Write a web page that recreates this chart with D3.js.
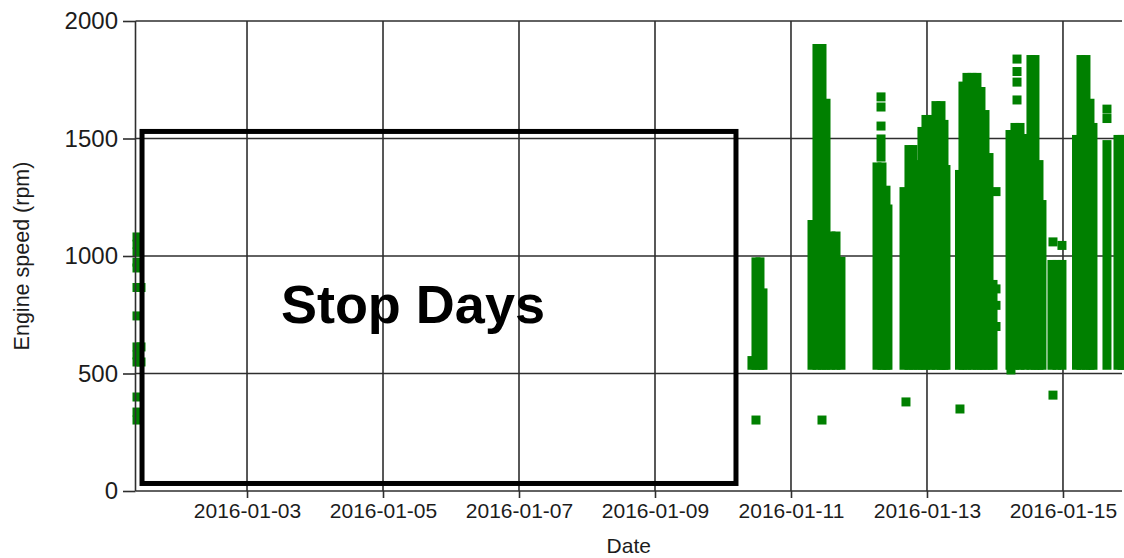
<!DOCTYPE html>
<html>
<head>
<meta charset="utf-8">
<script src="https://cdn.jsdelivr.net/npm/d3@7"></script>
<style>
  html, body { margin: 0; padding: 0; background: #fff; }
  svg { display: block; font-family: 'Liberation Sans', Arial, sans-serif; }
</style>
</head>
<body>
<svg id="chart" width="1124" height="558"></svg>
<script>
// ---------- DATA (days are decimal days of January 2016, 3.0 = 2016-01-03 00:00) ----------
const xTickLabels = ["2016-01-03","2016-01-05","2016-01-07","2016-01-09","2016-01-11","2016-01-13","2016-01-15"];
const yTickValues = [0, 500, 1000, 1500, 2000];
const xDomainDays = [1.360, 15.868];
const yDomain = [0, 2000];

// individual readings (scattered squares)
const pointDay = [
  1.382,1.382,1.382,1.382,1.382,1.382,1.382,1.382,1.382,1.382,1.382,1.382,1.382,
  1.441,1.441,1.441,
  10.485, 11.456, 12.691, 13.485, 14.853, 14.235,
  12.324,12.324,12.324,
  14.324,14.324,14.324,14.324,
  14.853,14.985,
  15.647,15.647,
  14.015,14.015,14.015,14.015
];
const pointRpm = [
  1081,1050,1017,974,949,866,745,613,579,549,400,336,302,
  866,613,549,
  302, 302, 379, 349, 408, 515,
  1677,1634,1553,
  1838,1785,1740,1664,
  1060,1045,
  1625,1585,
  1274,860,790,700
];

// dense runs of readings: for each time column, lowest and highest rpm reached
const runDay = [
  10.426,10.485,10.544,10.588,
  11.309,11.382,11.456,11.515,11.588,11.662,11.735,
  12.324,12.265,12.338,12.397,12.426,
  12.662,12.735,12.794,12.868,12.926,12.985,13.059,13.132,13.206,13.250,13.279,
  13.478,13.529,13.588,13.662,13.735,13.794,13.853,13.912,13.971,
  14.221,14.294,14.368,14.441,14.529,14.588,14.647,14.691,
  14.838,14.912,14.985,
  15.199,15.265,15.338,15.397,15.441,
  15.647,
  15.809,15.868,15.926
];
const runLow = [
  535,535,535,535,
  535,535,535,535,535,535,535,
  1421,535,535,535,535,
  535,535,535,535,535,535,535,535,535,535,535,
  535,535,535,535,535,535,535,535,535,
  535,535,535,535,535,535,535,535,
  535,535,535,
  535,535,535,535,535,
  535,
  535,535,535
];
const runHigh = [
  555,975,975,843,
  1134,1883,1883,1650,1085,1085,977,
  1498,1379,1379,1280,1200,
  1274,1453,1453,1389,1530,1581,1581,1640,1640,1560,1368,
  1347,1723,1760,1760,1760,1700,1602,1419,879,
  1517,1547,1547,1500,1836,1836,1389,1219,
  964,964,964,
  1496,1836,1836,1650,1547,
  1474,
  1496,1496,1496
];

// "Stop Days" annotation box (time span and rpm span) and its label anchor
const stopBoxDays = [1.456, 10.191];
const stopBoxRpm = [32, 1530];
const stopLabelText = "Stop Days";
const stopLabelDay = 5.44;
const stopLabelRpm = 715;

// ---------- CHART ----------
const dayToDate = d => new Date(Date.UTC(2016, 0, 1) + (d - 1) * 864e5);
const parseTick = d3.utcParse("%Y-%m-%d");
const fmtTick = d3.utcFormat("%Y-%m-%d");

const L = 135.5, R = 1122, T = 21, B = 491;
const svg = d3.select("#chart");

const x = d3.scaleUtc().domain(xDomainDays.map(dayToDate)).range([L, R]);
const y = d3.scaleLinear().domain(yDomain).range([B, T]);

const gridColor = "#2e2e2e";
const green = "#008000";
const ms = 9; // marker size

// gridlines
const xTicks = xTickLabels.map(parseTick);
svg.append("g").selectAll("line").data(xTicks).join("line")
  .attr("x1", d => x(d)).attr("x2", d => x(d))
  .attr("y1", T).attr("y2", B)
  .attr("stroke", gridColor).attr("stroke-width", 1.6);
svg.append("g").selectAll("line").data(yTickValues.filter(v => v > 0)).join("line")
  .attr("x1", L).attr("x2", R)
  .attr("y1", d => y(d)).attr("y2", d => y(d))
  .attr("stroke", gridColor).attr("stroke-width", 1.6);

// data: dense runs
const runs = runDay.map((d, i) => ({ t: dayToDate(d), lo: runLow[i], hi: runHigh[i] }));
svg.append("g").selectAll("rect").data(runs).join("rect")
  .attr("x", d => x(d.t) - ms / 2)
  .attr("width", ms)
  .attr("y", d => y(d.hi) - ms / 2)
  .attr("height", d => y(d.lo) - y(d.hi) + ms)
  .attr("fill", green);

// data: single points
const pts = pointDay.map((d, i) => ({ t: dayToDate(d), v: pointRpm[i] }));
svg.append("g").selectAll("rect").data(pts).join("rect")
  .attr("x", d => x(d.t) - ms / 2)
  .attr("y", d => y(d.v) - ms / 2)
  .attr("width", ms).attr("height", ms)
  .attr("fill", green);

// axes
const yAxis = d3.axisLeft(y).tickValues(yTickValues).tickSize(12.5).tickPadding(5).tickFormat(d3.format("d"));
const gy = svg.append("g").attr("transform", `translate(${L},0)`).call(yAxis);
gy.select(".domain").remove();
gy.selectAll(".tick line").attr("stroke", gridColor).attr("stroke-width", 1.6);
gy.selectAll(".tick text").attr("font-size", 24).attr("fill", "#1c1c1c")
  .attr("font-family", "'Liberation Sans', Arial, sans-serif");
svg.append("line").attr("x1", L).attr("x2", L).attr("y1", T).attr("y2", B)
  .attr("stroke", gridColor).attr("stroke-width", 1.6);

const xAxis = d3.axisBottom(x).tickValues(xTicks).tickSize(7).tickPadding(5.5).tickFormat(fmtTick);
const gx = svg.append("g").attr("transform", `translate(0,${B})`).call(xAxis);
gx.select(".domain").remove();
gx.selectAll(".tick line").attr("stroke", gridColor).attr("stroke-width", 1.6);
gx.selectAll(".tick text").attr("font-size", 21).attr("fill", "#1c1c1c")
  .attr("font-family", "'Liberation Sans', Arial, sans-serif");
svg.append("line").attr("x1", L).attr("x2", R).attr("y1", B).attr("y2", B)
  .attr("stroke", gridColor).attr("stroke-width", 1.6);

// axis titles
svg.append("text").attr("transform", `translate(29,${(T + B) / 2}) rotate(-90)`)
  .attr("text-anchor", "middle").attr("font-size", 21.5).attr("fill", "#1c1c1c")
  .text("Engine speed (rpm)");
svg.append("text").attr("x", (L + R) / 2).attr("y", 553)
  .attr("text-anchor", "middle").attr("font-size", 21).attr("fill", "#1c1c1c")
  .text("Date");

// annotation box
svg.append("rect")
  .attr("x", x(dayToDate(stopBoxDays[0])))
  .attr("y", y(stopBoxRpm[1]))
  .attr("width", x(dayToDate(stopBoxDays[1])) - x(dayToDate(stopBoxDays[0])))
  .attr("height", y(stopBoxRpm[0]) - y(stopBoxRpm[1]))
  .attr("fill", "none").attr("stroke", "#000").attr("stroke-width", 5);
svg.append("text")
  .attr("x", x(dayToDate(stopLabelDay))).attr("y", y(stopLabelRpm))
  .attr("text-anchor", "middle").attr("font-size", 54).attr("font-weight", "bold")
  .attr("fill", "#000").text(stopLabelText);
</script>
</body>
</html>
